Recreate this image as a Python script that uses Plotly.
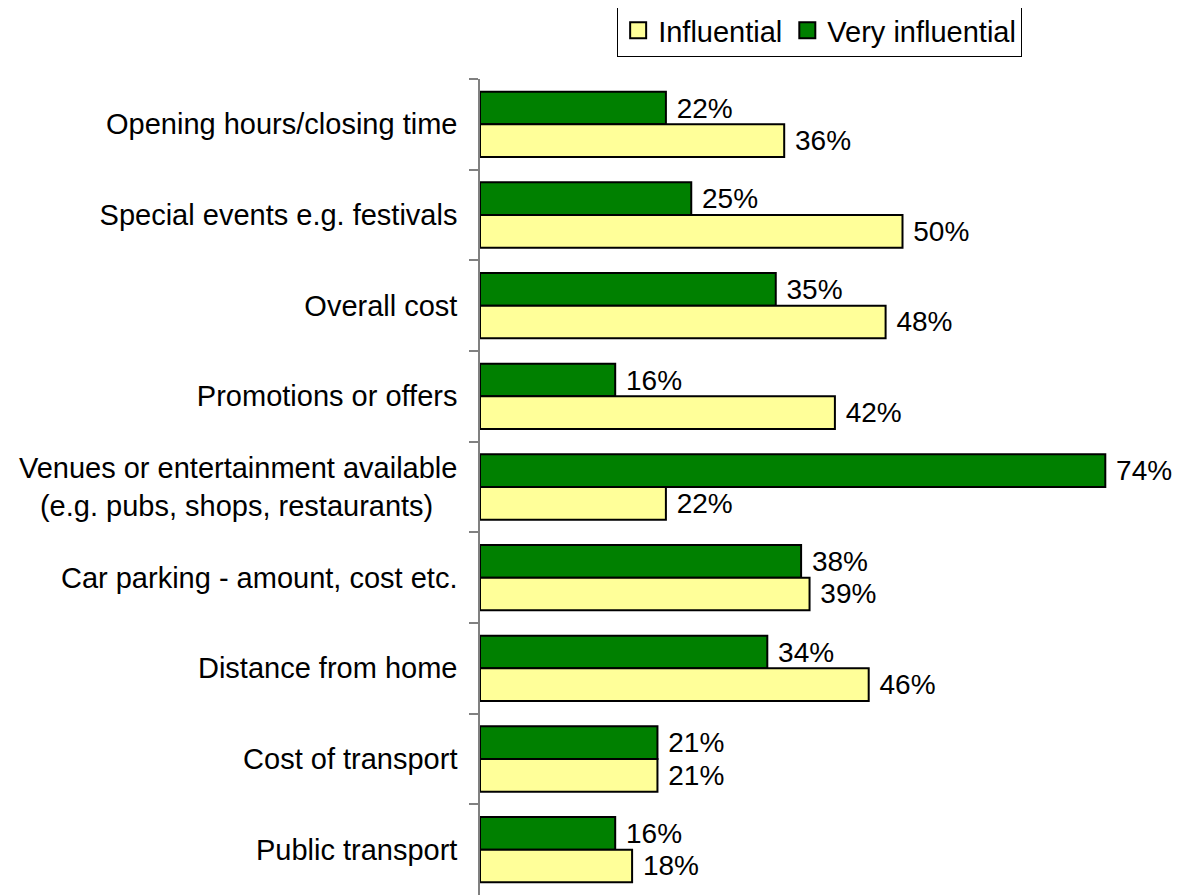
import plotly.graph_objects as go

# categories from top to bottom
factors = [
    "Opening hours/closing time",
    "Special events e.g. festivals",
    "Overall cost",
    "Promotions or offers",
    "Venues or entertainment available<br>(e.g. pubs, shops, restaurants)\u00a0\u00a0\u00a0",
    "Car parking - amount, cost etc.",
    "Distance from home",
    "Cost of transport",
    "Public transport",
]
very_influential = [22, 25, 35, 16, 74, 38, 34, 21, 16]
influential = [36, 50, 48, 42, 22, 39, 46, 21, 18]

FONT = "Arial, Liberation Sans, sans-serif"
GREEN = "#008000"
YELLOW = "#FFFF99"

fig = go.Figure()

# y axis is reversed, so the first trace sits on top within each group
fig.add_trace(go.Bar(
    y=factors, x=very_influential, orientation="h", name="Very influential",
    marker=dict(color=GREEN, line=dict(color="black", width=2)),
    text=[f" {v}%" for v in very_influential], textposition="outside",
    textfont=dict(size=28, color="black", family=FONT),
    showlegend=False, cliponaxis=False,
))
fig.add_trace(go.Bar(
    y=factors, x=influential, orientation="h", name="Influential",
    marker=dict(color=YELLOW, line=dict(color="black", width=2)),
    text=[f" {v}%" for v in influential], textposition="outside",
    textfont=dict(size=28, color="black", family=FONT),
    showlegend=False, cliponaxis=False,
))

# legend entries with bigger square swatches
for name, col in [("Influential", YELLOW), ("Very influential", GREEN)]:
    fig.add_trace(go.Scatter(
        x=[None], y=[None], mode="markers", name=name,
        marker=dict(symbol="square", size=17, color=col,
                    line=dict(color="black", width=2)),
    ))

# page body has an 8px margin, so the figure is 8px smaller each way
fig.update_layout(
    width=1180, height=887,
    margin=dict(l=472, r=32, t=71, b=0, autoexpand=False),
    barmode="group", bargap=0.28, bargroupgap=0,
    plot_bgcolor="white", paper_bgcolor="white",
    font=dict(family=FONT, size=29, color="black"),
    showlegend=True,
    legend=dict(
        orientation="h", x=0.802, xanchor="right", y=1.092, yanchor="top",
        bordercolor="black", borderwidth=1, bgcolor="white",
        font=dict(size=29, color="black", family=FONT),
        itemwidth=30, tracegroupgap=0,
    ),
)
fig.update_xaxes(range=[0, 80], visible=False, showgrid=False, zeroline=False)
fig.update_yaxes(
    autorange="reversed", showline=True, linecolor="#808080", linewidth=1.5,
    ticks="outside", ticklen=9, tickcolor="#808080", tickwidth=1.5,
    tickson="boundaries", ticklabelstandoff=15, showgrid=False,
    automargin=False,
    tickfont=dict(size=29, color="black", family=FONT),
)

fig.write_html("out.html")
